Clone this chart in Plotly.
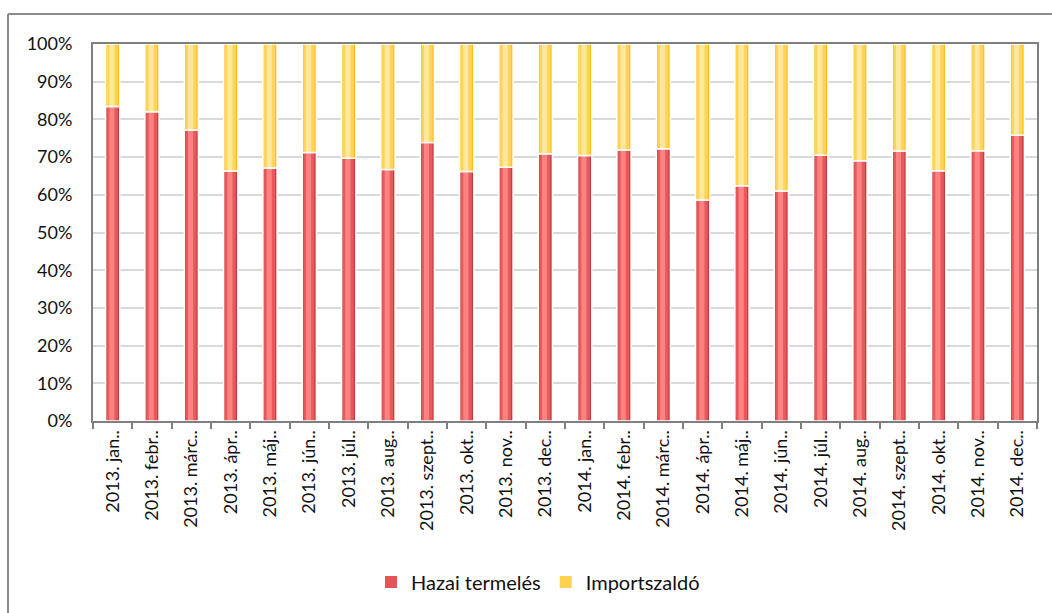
import plotly.graph_objects as go

# Monthly categories (2013-2014)
months = [
    "2013. jan..", "2013. febr..", "2013. márc..", "2013. ápr..", "2013. máj..", "2013. jún..",
    "2013. júl..", "2013. aug..", "2013. szept..", "2013. okt..", "2013. nov..", "2013. dec..",
    "2014. jan..", "2014. febr..", "2014. márc..", "2014. ápr..", "2014. máj..", "2014. jún..",
    "2014. júl..", "2014. aug..", "2014. szept..", "2014. okt..", "2014. nov..", "2014. dec..",
]

# Share of domestic generation (%)
hazai = [83.4, 82.0, 77.2, 66.3, 67.1, 71.2,
         69.7, 66.7, 73.9, 66.2, 67.3, 70.9,
         70.4, 71.9, 72.2, 58.6, 62.4, 61.0,
         70.5, 69.0, 71.6, 66.4, 71.7, 75.8]

# Net import share (%) = remainder to 100%
import_szaldo = [round(100 - v, 1) for v in hazai]

y_ticks = [0, 10, 20, 30, 40, 50, 60, 70, 80, 90, 100]
y_tick_text = [f"{t}%" for t in y_ticks]

FONT = "Lato"
BAR_W = 0.36

# Shaded bar layers: (width, offset, colour) from outer edge to bright centre
red_layers = [(BAR_W, -BAR_W / 2, "#C8383B"), (0.28, -0.15, "#E55A5C"), (0.13, -0.085, "#FF8282")]
yellow_layers = [(BAR_W, -BAR_W / 2, "#FFBE1E"), (0.28, -0.15, "#FFD45A"), (0.13, -0.085, "#FFE79E")]

fig = go.Figure()


def add_series(name, values, base, layers):
    for w, off, col in layers:
        fig.add_trace(go.Bar(
            x=months, y=values, base=base, name=name,
            width=w, offset=off,
            marker=dict(color=col, line=dict(width=0)),
            showlegend=False, hoverinfo="skip",
        ))
    # white outline drawn over the shaded fill
    fig.add_trace(go.Bar(
        x=months, y=values, base=base, name=name,
        width=BAR_W, offset=-BAR_W / 2,
        marker=dict(color="rgba(0,0,0,0)", line=dict(color="white", width=1.5)),
        showlegend=False,
    ))


add_series("Hazai termelés", hazai, [0] * len(hazai), red_layers)
add_series("Importszaldó", import_szaldo, hazai, yellow_layers)

# Legend swatches coloured like the bars
fig.add_trace(go.Bar(x=[None], y=[None], name="Hazai termelés",
                     marker=dict(color="#E25657", line=dict(width=0)), showlegend=True))
fig.add_trace(go.Bar(x=[None], y=[None], name="Importszaldó",
                     marker=dict(color="#FFD24F", line=dict(width=0)), showlegend=True))

L, R, T, B = 93, 15, 44, 192
W, H = 1052, 613
pw, ph = W - L - R, H - T - B

fig.update_layout(
    width=W, height=H,
    margin=dict(l=L, r=R, t=T, b=B, autoexpand=False),
    barmode="overlay",
    paper_bgcolor="white", plot_bgcolor="white",
    font=dict(family=FONT, size=18, color="#111111"),
    showlegend=True,
    legend=dict(
        orientation="h", x=(538 - L) / pw, xanchor="center",
        y=(H - B - 582) / ph, yanchor="middle",
        font=dict(size=20, family=FONT, color="#111111"),
        itemwidth=30, traceorder="normal",
    ),
    xaxis=dict(
        type="category", tickangle=-90,
        showline=True, linecolor="#7F7F7F", linewidth=2, mirror=True,
        ticks="outside", tickson="boundaries", ticklen=6, tickcolor="#7F7F7F", tickwidth=2,
        showgrid=False, tickfont=dict(size=18, family=FONT),
        range=[-0.5, len(months) - 0.5],
    ),
    yaxis=dict(
        range=[0, 100], tickvals=y_ticks, ticktext=y_tick_text,
        showline=True, linecolor="#7F7F7F", linewidth=2, mirror=True,
        showgrid=True, gridcolor="#D9D9D9", gridwidth=2,
        ticks="", ticklabelstandoff=15, tickfont=dict(size=18, family=FONT),
        zeroline=False,
    ),
    shapes=[
        # outer chart-area frame (left and top edges)
        dict(type="line", xref="paper", yref="paper",
             x0=(8 - L) / pw, x1=(8 - L) / pw, y0=(H - B - 14) / ph, y1=(H - B - 640) / ph,
             line=dict(color="#8C8C8C", width=2)),
        dict(type="line", xref="paper", yref="paper",
             x0=(8 - L) / pw, x1=(1080 - L) / pw, y0=(H - B - 14) / ph, y1=(H - B - 14) / ph,
             line=dict(color="#8C8C8C", width=2)),
    ],
)

fig.write_html("out.html")
